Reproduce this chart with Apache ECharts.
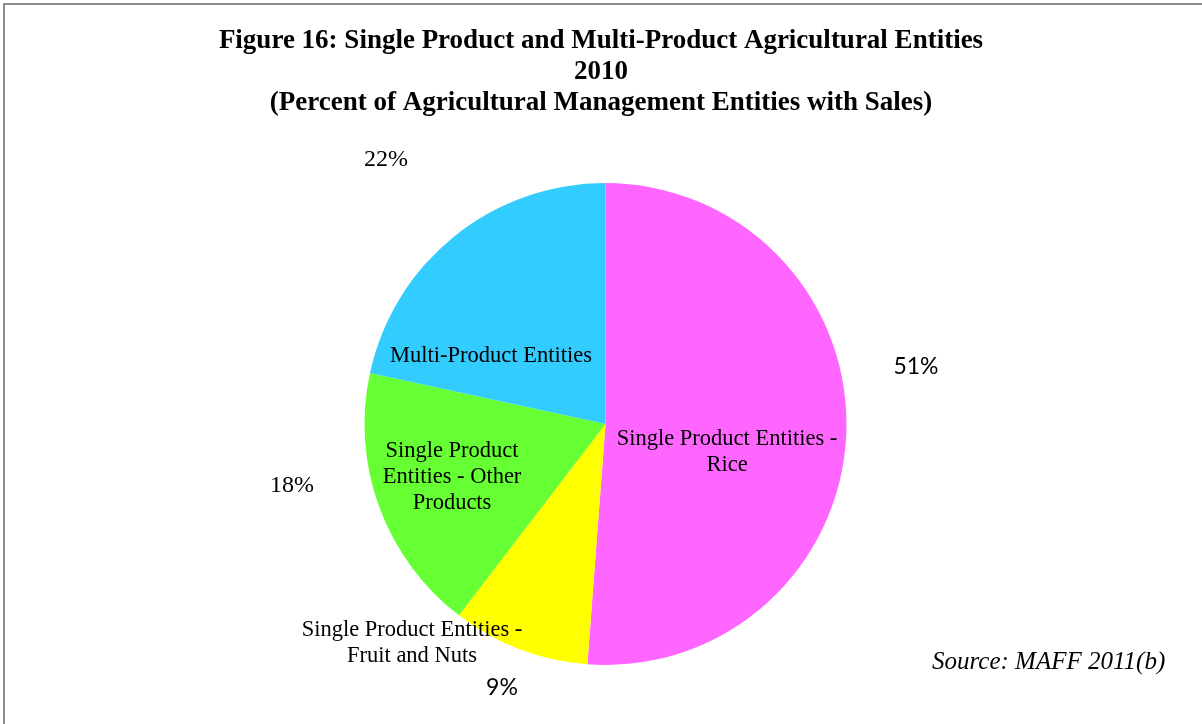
<!DOCTYPE html>
<html>
<head>
<meta charset="utf-8">
<script src="https://cdn.jsdelivr.net/npm/echarts@6/dist/echarts.min.js"></script>
<style>html,body{margin:0;padding:0;background:#fff}#c{width:1202px;height:724px}</style>
</head>
<body>
<div id="c"></div>
<script>
// Data (clockwise from 12 o'clock), percent of agricultural management entities with sales
var categories = ['Single Product Entities -\nRice', 'Single Product Entities -\nFruit and Nuts', 'Single Product\nEntities - Other\nProducts', 'Multi-Product Entities'];
var values = [51.2, 9.2, 18.0, 21.6];
var colors = ['#FF66FF', '#FFFF00', '#66FF33', '#33CCFF'];
var titleText = 'Figure 16: Single Product and Multi-Product Agricultural Entities\n2010\n(Percent of Agricultural Management Entities with Sales)';
var sourceText = 'Source: MAFF 2011(b)';

// label placement (as in reference)
var nameLabelPos = [[727, 452], [412, 643], [452, 477], [491, 356]];
var pctLabelPos = [[916, 367], [502, 688], [292, 486], [386, 160]];
var pctFonts = ['Lato', 'Lato', 'Liberation Serif', 'Liberation Serif'];
var pctSizes = [23, 23, 24, 24];

var chart = echarts.init(document.getElementById('c'));
var data1 = values.map(function (v, i) {
  return { name: categories[i], value: v, itemStyle: { color: colors[i] } };
});
var data2 = values.map(function (v, i) {
  return { name: categories[i], value: v, itemStyle: { color: 'rgba(0,0,0,0)' },
    label: { fontFamily: pctFonts[i], fontSize: pctSizes[i] } };
});
chart.setOption({
  animation: false,
  backgroundColor: '#fff',
  title: {
    text: titleText,
    left: 'center',
    top: 21,
    textStyle: { fontFamily: 'Liberation Serif', fontWeight: 'bold', fontSize: 27, lineHeight: 31, color: '#000', align: 'center' }
  },
  graphic: [
    { type: 'rect', shape: { x: 4, y: 4, width: 1300, height: 800 }, style: { fill: 'none', stroke: '#8c8c8c', lineWidth: 2 }, z: 100 },
    { type: 'text', left: 932, top: 650, style: { text: sourceText, font: 'italic 25px "Liberation Serif"', fill: '#000' } }
  ],
  series: [
    {
      type: 'pie',
      center: [605.5, 424],
      radius: 241,
      startAngle: 90,
      clockwise: true,
      silent: true,
      itemStyle: { borderWidth: 0 },
      label: {
        show: true, position: 'inside', formatter: '{b}',
        fontFamily: 'Liberation Serif', fontSize: 22.5, lineHeight: 26, color: '#000', align: 'center'
      },
      labelLine: { show: false },
      labelLayout: function (p) {
        var q = nameLabelPos[p.dataIndex];
        return { x: q[0], y: q[1], align: 'center', verticalAlign: 'middle' };
      },
      data: data1
    },
    {
      type: 'pie',
      center: [605.5, 424],
      radius: 241,
      startAngle: 90,
      clockwise: true,
      silent: true,
      itemStyle: { borderWidth: 0 },
      label: {
        show: true, position: 'outside',
        formatter: function (p) { return Math.round(p.value) + '%'; },
        color: '#000'
      },
      labelLine: { show: false },
      labelLayout: function (p) {
        var q = pctLabelPos[p.dataIndex];
        return { x: q[0], y: q[1], align: 'center', verticalAlign: 'middle' };
      },
      data: data2
    }
  ]
});
</script>
</body>
</html>
